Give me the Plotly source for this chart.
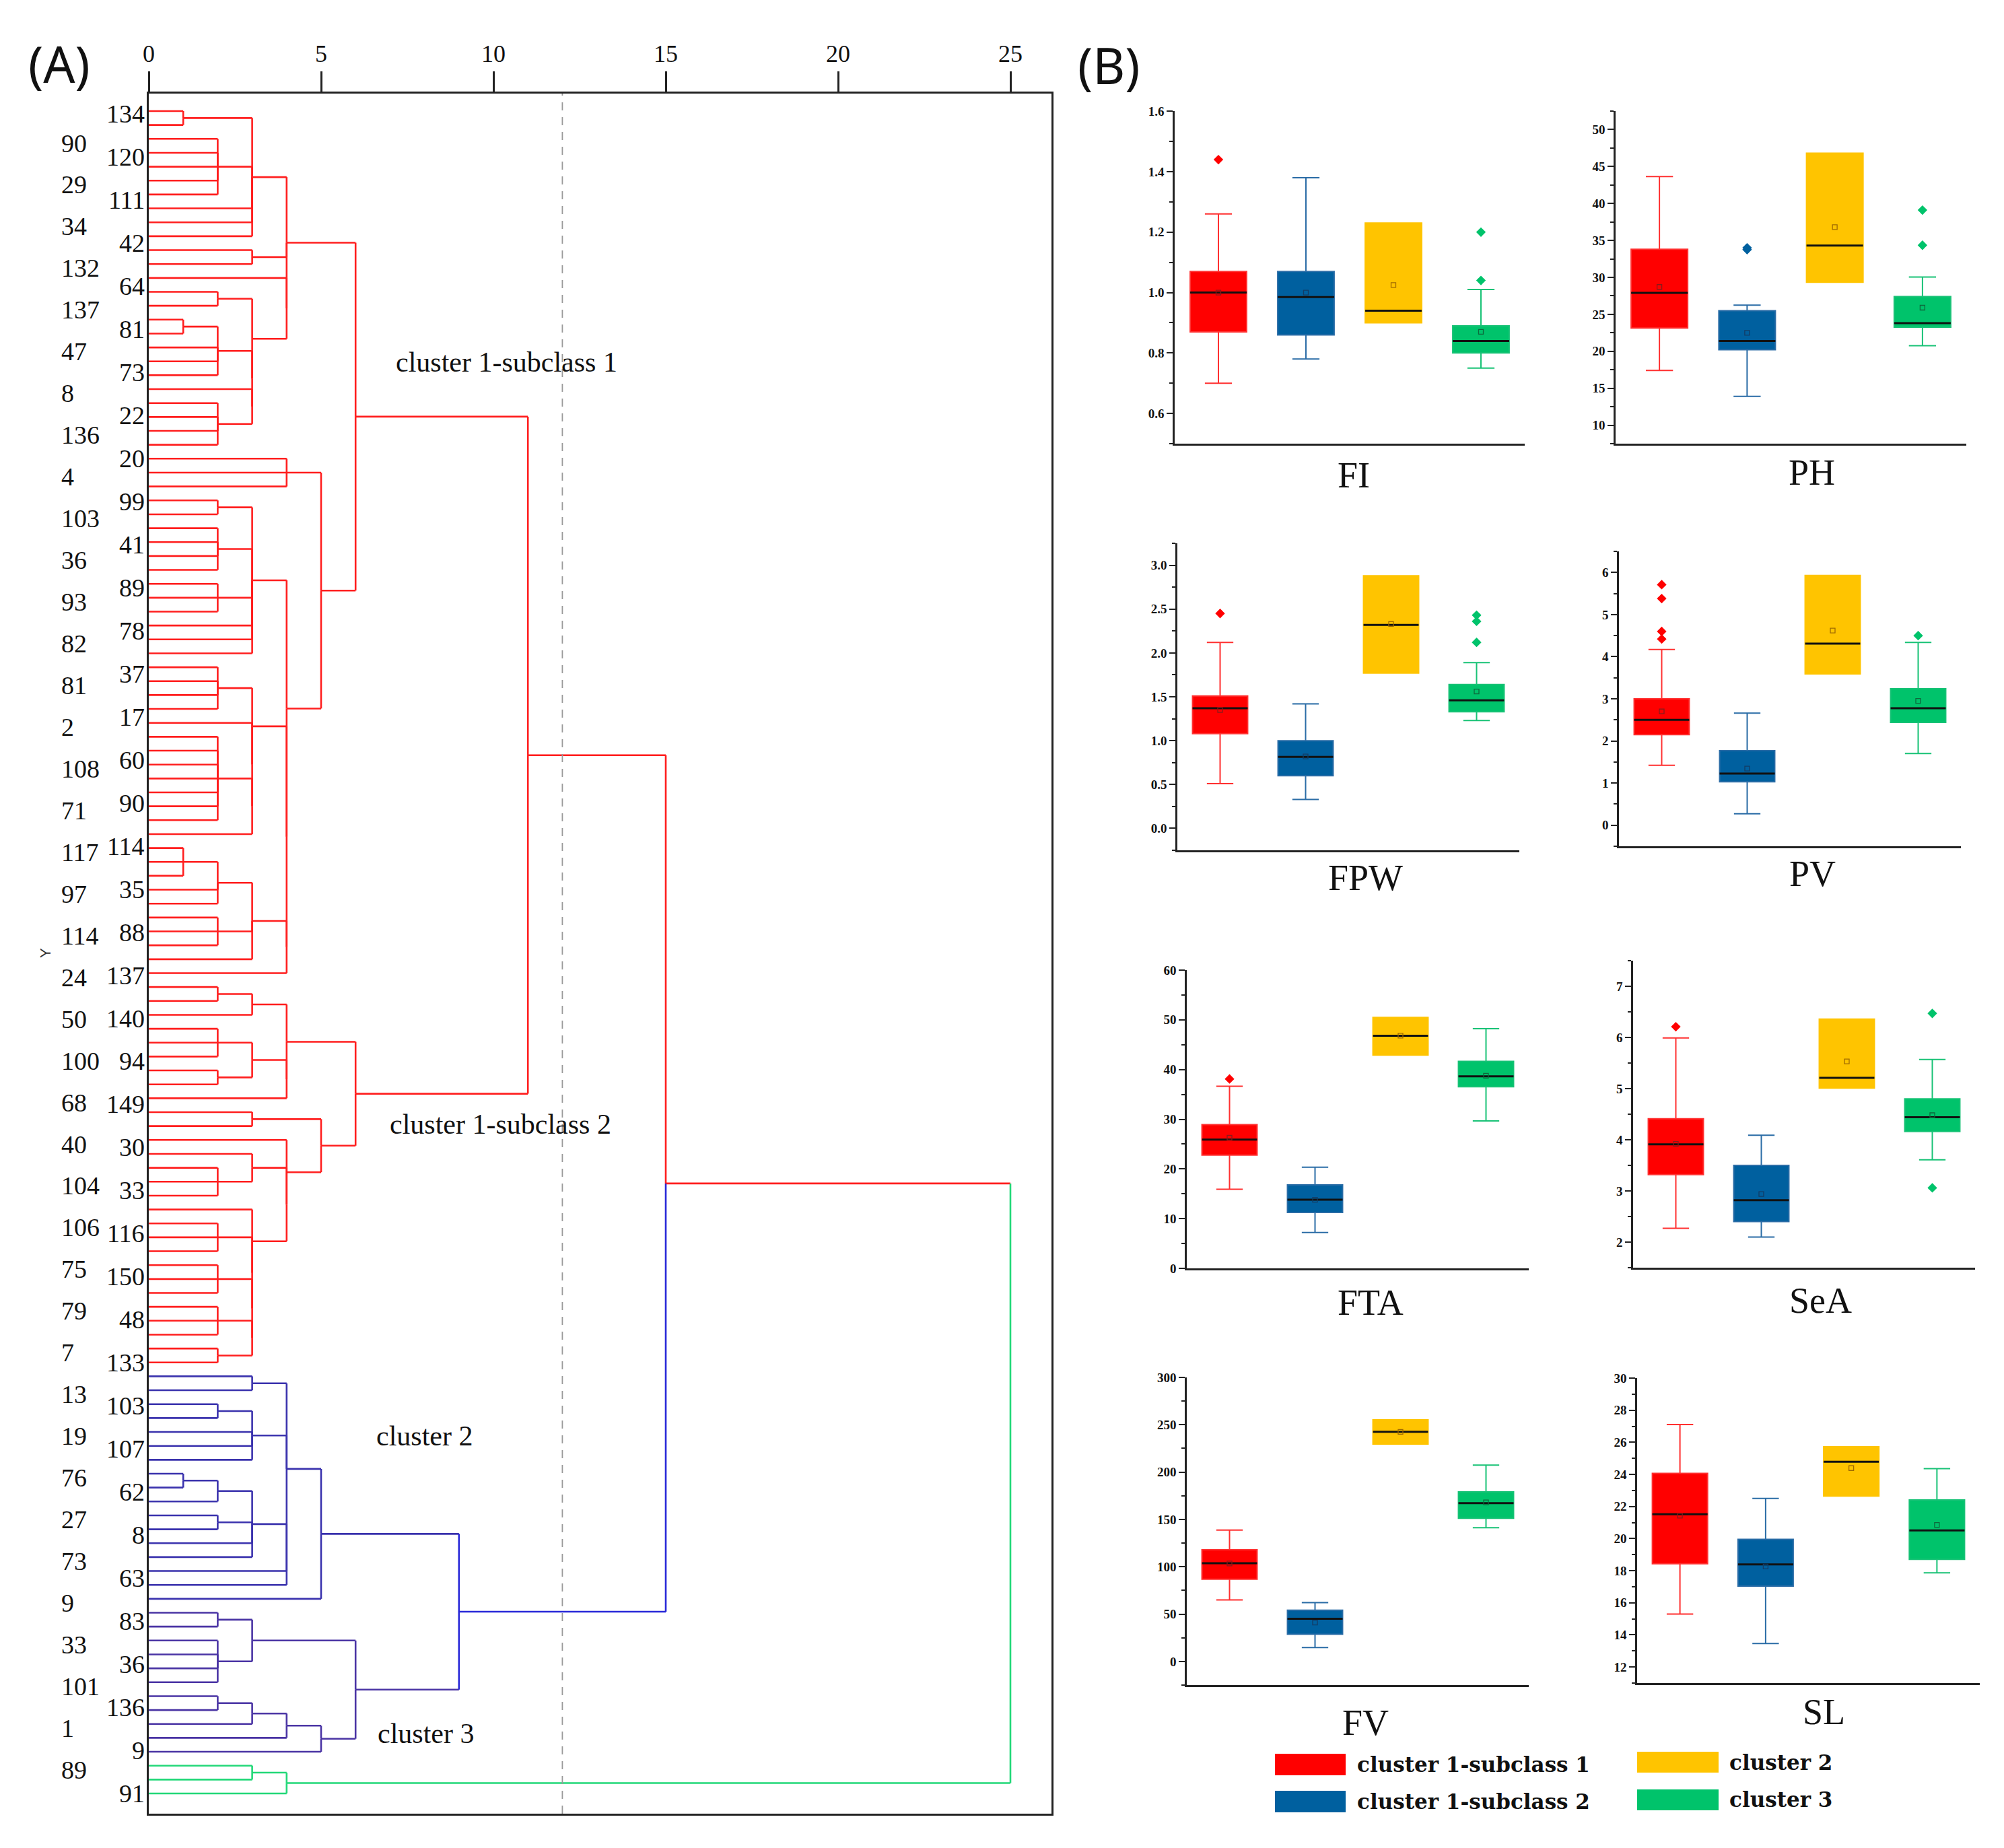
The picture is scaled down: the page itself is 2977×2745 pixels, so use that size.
import plotly.graph_objects as go

FIG_W, FIG_H = 2977, 2745
PAGE_OFFSET = 8  # default body margin of the html page

# ---------------------------------------------------------------- dendrogram data
# leaf index ranges (top to bottom) of each cluster
LEAF_GROUPS = [(0, 90, "c1"), (91, 107, "c2"), (108, 118, "c3"), (119, 121, "c4")]
DIST_TICKS = [0, 5, 10, 15, 20, 25]
CUT_DISTANCE = 12

RIGHT_LABELS = ["134", "120", "111", "42", "64", "81", "73", "22", "20", "99", "41", "89", "78",
                "37", "17", "60", "90", "114", "35", "88", "137", "140", "94", "149", "30", "33",
                "116", "150", "48", "133", "103", "107", "62", "8", "63", "83", "36", "136", "9", "91"]
LEFT_LABELS = ["90", "29", "34", "132", "137", "47", "8", "136", "4", "103", "36", "93", "82",
               "81", "2", "108", "71", "117", "97", "114", "24", "50", "100", "68", "40", "104",
               "106", "75", "79", "7", "13", "19", "76", "27", "73", "9", "33", "101", "1", "89"]

CLUSTER_TEXT = ["cluster 1-subclass 1", "cluster 1-subclass 2", "cluster 2", "cluster 3"]


def n(h, *children, color=None):
    # a merge at rescaled distance h; nested merges at the same h keep the binary merge order
    return {"h": h, "ch": list(children), "color": color}


SUBCLASS_1 = n(6,
    n(4,
        n(3, n(1, 0, 1), n(2, 2, 3, 4, 5, 6), 7, 8, 9),
        n(3, 10, 11),
        n(4,
            12,
            n(3, n(2, 13, 14),
                 n(3, n(2, n(1, 15, 16), 17, 18, 19),
                      n(3, 20, n(2, 21, 22, 23, 24)))))),
    n(5,
        n(4, 25, 26, 27),
        n(4,
            n(3, n(2, 28, 29), n(2, 30, 31, 32, 33), n(2, 34, 35, 36), 37, 38, 39),
            n(4,
                n(3, n(2, 40, 41, 42, 43), n(3, 44, n(3, n(2, 45, 46, 47, 48, 49, 50, 51), 52))),
                n(4,
                    n(3, n(2, n(1, 53, 54, 55), 56, 57), n(2, 58, 59, 60), 61),
                    62)))))

SUBCLASS_2 = n(6,
    n(4,
        n(3, n(2, 63, 64), 65),
        n(4, n(3, n(2, 66, 67, 68), n(2, 69, 70)), 71)),
    n(5,
        n(3, 72, 73),
        n(4,
            74,
            n(4,
                n(3, 75, n(2, 76, 77, 78)),
                n(3, 79,
                     n(3, n(2, 80, 81, 82),
                          n(3, n(2, 83, 84, 85),
                               n(3, n(2, 86, 87, 88), n(2, 89, 90)))))))))

CLUSTER_2 = n(5,
    n(4,
        n(3, 91, 92),
        n(3, n(2, 93, 94), 95, 96, 97),
        n(4,
            n(3, n(2, n(1, 98, 99), 100), n(2, 101, 102), 103, 104),
            105, 106)),
    107)

CLUSTER_3 = n(6,
    n(3, n(2, 108, 109), n(2, 110, 111, 112, 113)),
    n(5, n(4, n(3, n(2, 114, 115), 116), 117), 118))

OUTLIER_GROUP = n(4, n(3, 119, 120), 121)

TREE = n(25,
    n(15,
        n(11, SUBCLASS_1, SUBCLASS_2),
        n(9, CLUSTER_2, CLUSTER_3, color="blue")),
    OUTLIER_GROUP,
    color="c4")

DENDRO_COLORS = {"c1": "#ff1e1e", "c2": "#3a32ad", "c3": "#4a34a4", "c4": "#22d878", "blue": "#2828d8"}

# ---------------------------------------------------------------- box plot data
GROUPS = ["cluster 1-subclass 1", "cluster 1-subclass 2", "cluster 2", "cluster 3"]
VARIABLES = ["FI", "PH", "FPW", "PV", "FTA", "SeA", "FV", "SL"]
# per variable: [subclass1, subclass2, cluster2, cluster3]
Q1 = [[0.87, 0.86, 0.90, 0.80], [23.15, 20.2, 29.35, 23.25], [1.08, 0.60, 1.77, 1.33],
      [2.15, 1.03, 3.59, 2.44], [22.8, 11.25, 42.9, 36.55], [3.32, 2.40, 5.01, 4.16],
      [86.9, 28.7, 229.6, 151.2], [18.43, 17.04, 22.65, 18.71]]
MEDIAN = [[1.00, 0.985, 0.94, 0.84], [27.9, 21.4, 34.3, 23.8], [1.37, 0.815, 2.32, 1.46],
          [2.50, 1.225, 4.31, 2.775], [25.9, 13.8, 46.8, 38.65], [3.91, 2.82, 5.21, 4.44],
          [103.8, 45.0, 242.5, 167.2], [21.52, 18.39, 24.79, 20.51]]
Q3 = [[1.07, 1.07, 1.23, 0.89], [33.8, 25.5, 46.8, 27.4], [1.51, 1.00, 2.88, 1.64],
      [3.00, 1.77, 5.93, 3.24], [28.9, 16.8, 50.5, 41.65], [4.41, 3.50, 6.36, 4.80],
      [118.0, 54.1, 255.2, 179.1], [24.07, 19.95, 25.72, 22.41]]
LOWER = [[0.70, 0.78, 0.90, 0.75], [17.4, 13.9, 29.35, 20.75], [0.51, 0.33, 1.77, 1.23],
         [1.42, 0.27, 3.59, 1.70], [15.9, 7.2, 42.9, 29.65], [2.27, 2.10, 5.01, 3.61],
         [65.0, 14.7, 229.6, 141.3], [15.30, 13.46, 22.65, 17.87]]
UPPER = [[1.26, 1.38, 1.23, 1.01], [43.65, 26.25, 46.8, 30.05], [2.12, 1.42, 2.88, 1.89],
         [4.17, 2.66, 5.93, 4.34], [36.65, 20.35, 50.5, 48.2], [5.99, 4.09, 6.36, 5.57],
         [138.7, 62.1, 255.2, 207.3], [27.11, 22.5, 25.72, 24.36]]
MEAN = [[1.00, 1.00, 1.025, 0.87], [28.7, 22.5, 36.8, 25.9], [1.35, 0.82, 2.33, 1.56],
        [2.70, 1.345, 4.62, 2.95], [26.3, 13.8, 46.8, 38.75], [3.92, 2.94, 5.53, 4.48],
        [103.5, 41.1, 242.5, 168.0], [21.43, 18.26, 24.39, 20.85]]
OUTLIERS = [[[1.44], [], [], [1.04, 1.20]],
            [[], [33.75, 34.0], [], [34.35, 39.1]],
            [[2.45], [], [], [2.12, 2.36, 2.43]],
            [[4.42, 4.60, 5.38, 5.71], [], [], [4.50]],
            [[38.1], [], [], []],
            [[6.21], [], [], [3.06, 6.47]],
            [[], [], [], []],
            [[], [], [], []]]

BOX_FILL = ["#ff0000", "#00609f", "#ffc400", "#00c36b"]
BOX_LINE = ["#ff3030", "#2a6ca6", "#ffc400", "#18c276"]
MEAN_COL = ["#8a1a1a", "#123c66", "#a06a00", "#0c6a3c"]

# panel layout (pixel boxes) : x0, x1, ytop, ybot, y-range, dtick, minor, format, title centre
PANELS = [
    (1745, 2265, 165, 659, [0.5, 1.6005], 0.2, 0.1, ".1f", (2011, 706)),
    (2400, 2921, 165, 659, [7.5, 52.5], 5, 2.5, "d", (2691, 702)),
    (1749, 2257, 807, 1263, [-0.25, 3.25], 0.5, 0.25, ".1f", (2028, 1304)),
    (2405, 2913, 819, 1257, [-0.5, 6.5], 1, 0.5, "d", (2692, 1298)),
    (1763, 2271, 1441, 1884, [0, 60], 10, 5, "d", (2036, 1935)),
    (2426, 2934, 1427, 1883, [1.5, 7.5], 1, 0.5, "d", (2704, 1932)),
    (1763, 2271, 2046, 2503, [-25, 300], 50, 25, "d", (2028, 2559)),
    (2432, 2941, 2047, 2500, [11, 30], 2, 1, "d", (2709, 2543)),
]

BOX_WIDTH = 0.645


def px(x):
    return (x - PAGE_OFFSET) / FIG_W


def py(y):
    return 1 - (y - PAGE_OFFSET) / FIG_H


fig = go.Figure()

# ---------------------------------------------------------------- dendrogram
segs = {}


def add_seg(col, x0, y0, x1, y1):
    xs, ys = segs.setdefault(col, ([], []))
    xs.extend([x0, x1, None])
    ys.extend([y0, y1, None])


def leaf_color(i):
    for a, b, c in LEAF_GROUPS:
        if a <= i <= b:
            return DENDRO_COLORS[c]
    return "#000000"


def walk(node):
    if isinstance(node, int):
        return float(node), 0.0, leaf_color(node)
    info = [walk(c) for c in node["ch"]]
    h = node["h"]
    y = (info[0][0] + info[-1][0]) / 2.0
    for cy, chh, cc in info:
        if chh != h:
            add_seg(cc, chh, cy, h, cy)
    if node["color"]:
        col = DENDRO_COLORS[node["color"]]
        add_seg(col, h, min(i[0] for i in info), h, max(i[0] for i in info))
    else:
        for cy, _, cc in info:
            add_seg(cc, h, y, h, cy)
        col = info[0][2]
    return y, h, col


walk(TREE)
for col, (xs, ys) in segs.items():
    fig.add_trace(go.Scatter(x=xs, y=ys, mode="lines", line=dict(color=col, width=2.6),
                             hoverinfo="skip", showlegend=False, xaxis="x", yaxis="y"))

n_leaves = LEAF_GROUPS[-1][1] + 1
leaf_px = (2664 - 165) / (n_leaves - 1)
y_top = (139 - 165) / leaf_px
y_bot = (2694 - 165) / leaf_px
unit_px = (1501 - 221) / 25
frame_right = 1562
x_right = (frame_right - 221) / unit_px

layout = dict(
    width=FIG_W, height=FIG_H, margin=dict(l=0, r=0, t=0, b=0),
    paper_bgcolor="white", plot_bgcolor="white", template="none", showlegend=False,
    xaxis=dict(domain=[px(221), px(frame_right)], range=[0, x_right], side="top", tickvals=DIST_TICKS,
               ticks="outside", ticklen=30, tickwidth=2.5, tickcolor="#222",
               showline=True, linewidth=3, linecolor="#222", mirror=True,
               showgrid=False, zeroline=False, anchor="y",
               tickfont=dict(family="Liberation Serif", size=36, color="#111")),
    yaxis=dict(domain=[py(2694), py(139)], range=[y_bot, y_top], showticklabels=False, ticks="",
               showline=True, linewidth=3, linecolor="#222", mirror=True,
               showgrid=False, zeroline=False, anchor="x"),
)

shapes = [dict(type="line", xref="x", yref="y domain", x0=CUT_DISTANCE, x1=CUT_DISTANCE, y0=0, y1=1,
               line=dict(color="#9a9a9a", width=1.8, dash="12px,10px"))]
annotations = []

n_lab = len(RIGHT_LABELS)
for i, lab in enumerate(RIGHT_LABELS):
    yy = 0.2 + i * (121.0 - 0.2) / (n_lab - 1)
    annotations.append(dict(x=px(217), xref="paper", y=yy, yref="y", text=lab, showarrow=False,
                            xanchor="right", yanchor="middle",
                            font=dict(family="Liberation Serif", size=38, color="#111")))
for i, lab in enumerate(LEFT_LABELS):
    yy = 2.3 + i * (119.3 - 2.3) / (len(LEFT_LABELS) - 1)
    annotations.append(dict(x=px(89), xref="paper", y=yy, yref="y", text=lab, showarrow=False,
                            xanchor="left", yanchor="middle",
                            font=dict(family="Liberation Serif", size=38, color="#111")))

for txt, (cx, cy) in zip(CLUSTER_TEXT, [(752, 538), (743, 1670), (630, 2133), (632, 2575)]):
    annotations.append(dict(x=px(cx), y=py(cy), xref="paper", yref="paper", text=txt, showarrow=False,
                            xanchor="center", yanchor="middle",
                            font=dict(family="Liberation Serif", size=42, color="#111")))

annotations.append(dict(x=px(67), y=py(1416), xref="paper", yref="paper", text="Y", showarrow=False,
                        xanchor="center", yanchor="middle", textangle=-90,
                        font=dict(family="Liberation Sans", size=22, color="#333")))
annotations.append(dict(x=px(88), y=py(94), xref="paper", yref="paper", text="(A)", showarrow=False,
                        xanchor="center", yanchor="middle",
                        font=dict(family="Noto Sans", size=74, color="#111")))
annotations.append(dict(x=px(1647), y=py(96), xref="paper", yref="paper", text="(B)", showarrow=False,
                        xanchor="center", yanchor="middle",
                        font=dict(family="Noto Sans", size=74, color="#111")))

# ---------------------------------------------------------------- box panels
for k, (name, panel) in enumerate(zip(VARIABLES, PANELS)):
    x0, x1, yt, yb, yr, dt, mn, fmt, (tx, ty) = panel
    ax = k + 2
    xa, ya = f"x{ax}", f"y{ax}"
    for g in range(len(GROUPS)):
        pos = g + 1
        fig.add_trace(go.Box(x=[pos], q1=[Q1[k][g]], median=[MEDIAN[k][g]], q3=[Q3[k][g]],
                             lowerfence=[LOWER[k][g]], upperfence=[UPPER[k][g]],
                             width=BOX_WIDTH, whiskerwidth=0.48, fillcolor=BOX_FILL[g],
                             line=dict(color=BOX_LINE[g], width=2), boxpoints=False,
                             hoverinfo="skip", showlegend=False, xaxis=xa, yaxis=ya))
        fig.add_trace(go.Scatter(x=[pos - BOX_WIDTH / 2, pos + BOX_WIDTH / 2],
                                 y=[MEDIAN[k][g], MEDIAN[k][g]], mode="lines",
                                 line=dict(color="#111", width=3), hoverinfo="skip",
                                 showlegend=False, xaxis=xa, yaxis=ya))
        fig.add_trace(go.Scatter(x=[pos], y=[MEAN[k][g]], mode="markers",
                                 marker=dict(symbol="square-open", size=7, color=MEAN_COL[g],
                                             line=dict(width=1.3, color=MEAN_COL[g])),
                                 hoverinfo="skip", showlegend=False, xaxis=xa, yaxis=ya))
        if OUTLIERS[k][g]:
            fig.add_trace(go.Scatter(x=[pos] * len(OUTLIERS[k][g]), y=OUTLIERS[k][g], mode="markers",
                                     marker=dict(symbol="diamond", size=11, color=BOX_FILL[g]),
                                     hoverinfo="skip", showlegend=False, xaxis=xa, yaxis=ya))
    layout[f"xaxis{ax}"] = dict(domain=[px(x0), px(x1)], range=[0.5, 4.5], showline=True, linewidth=2.5,
                                linecolor="#222", showticklabels=False, ticks="", showgrid=False,
                                zeroline=False, anchor=ya)
    layout[f"yaxis{ax}"] = dict(domain=[py(yb), py(yt)], range=yr, dtick=dt, tick0=0, ticks="outside",
                                ticklen=9, tickwidth=2, tickcolor="#222", showline=True, linewidth=2.5,
                                linecolor="#222", showgrid=False, zeroline=False, anchor=xa,
                                tickformat=fmt,
                                tickfont=dict(family="Liberation Serif", size=19, color="#111",
                                              weight="bold"),
                                minor=dict(dtick=mn, tick0=0, ticks="outside", ticklen=5, tickwidth=2,
                                           tickcolor="#222", showgrid=False))
    annotations.append(dict(x=px(tx), y=py(ty), xref="paper", yref="paper", text=name, showarrow=False,
                            xanchor="center", yanchor="middle",
                            font=dict(family="Liberation Serif", size=54, color="#111")))

# ---------------------------------------------------------------- legend
legend_items = [
    (0, (1894, 1999, 2605, 2637), (2014, 2621)),
    (1, (1894, 1999, 2660, 2692), (2014, 2676)),
    (2, (2432, 2553, 2602, 2633), (2567, 2618)),
    (3, (2432, 2553, 2658, 2689), (2567, 2673)),
]
for g, (rx0, rx1, ry0, ry1), (lx, ly) in legend_items:
    shapes.append(dict(type="rect", xref="paper", yref="paper", x0=px(rx0), x1=px(rx1),
                       y0=py(ry1), y1=py(ry0), fillcolor=BOX_FILL[g], line=dict(width=0)))
    annotations.append(dict(x=px(lx), y=py(ly), xref="paper", yref="paper", text=GROUPS[g],
                            showarrow=False, xanchor="left", yanchor="middle",
                            font=dict(family="DejaVu Serif", size=31, color="#111", weight="bold")))

layout["shapes"] = shapes
layout["annotations"] = annotations
fig.update_layout(**layout)
fig.write_html("out.html")
